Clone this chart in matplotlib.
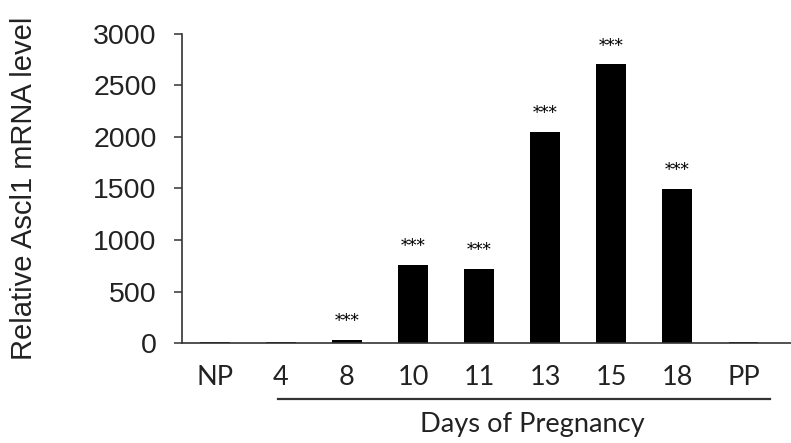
import numpy as np
import matplotlib.pyplot as plt

labels = ["NP", "4", "8", "10", "11", "13", "15", "18", "PP"]
values = [8, 6, 30, 757, 718, 2050, 2705, 1495, 6]
stars = ["", "", "***", "***", "***", "***", "***", "***", ""]
yticks = [0, 500, 1000, 1500, 2000, 2500, 3000]

fig = plt.figure(figsize=(7.91, 4.43), dpi=100)
ax = fig.add_axes([0.2297, 0.2257, 0.7703, 0.6976])

x = np.arange(len(labels))
ax.bar(x, values, width=0.45, color="black")

for xi, v, s in zip(x, values, stars):
    if s:
        ax.annotate(s, (xi, v), xytext=(0, 7), textcoords="offset points",
                    ha="center", va="bottom", fontsize=12, family="DejaVu Serif")

ax.set_xlim(-0.5, 8.72)
ax.set_ylim(0, 3000)
ax.set_yticks(yticks)
ax.set_yticklabels([str(t) for t in yticks], family="Liberation Sans", fontsize=20.5, color="#222222")
ax.set_xticks(x)
ax.set_xticklabels(labels, family="Lato", fontsize=19.5, color="#222222")
ax.tick_params(axis="x", length=0, pad=16)
ax.tick_params(axis="y", length=6, width=1.1, color="#333333", pad=12)

for side in ["top", "right"]:
    ax.spines[side].set_visible(False)
for side in ["left", "bottom"]:
    ax.spines[side].set_linewidth(1.2)
    ax.spines[side].set_color("#333333")

ax.set_ylabel("Relative Ascl1 mRNA level", family="Liberation Sans", fontsize=21,
              color="#222222", labelpad=40)

# underline for pregnancy days
ax.plot([0.95, 8.4], [-0.181, -0.181], color="#333333", lw=1.6,
        transform=ax.get_xaxis_transform(), clip_on=False)
ax.text(4.8, -0.265, "Days of Pregnancy", transform=ax.get_xaxis_transform(),
        ha="center", va="center", family="Lato", fontsize=19.6, color="#222222")

fig.savefig("out.png", dpi=100)
